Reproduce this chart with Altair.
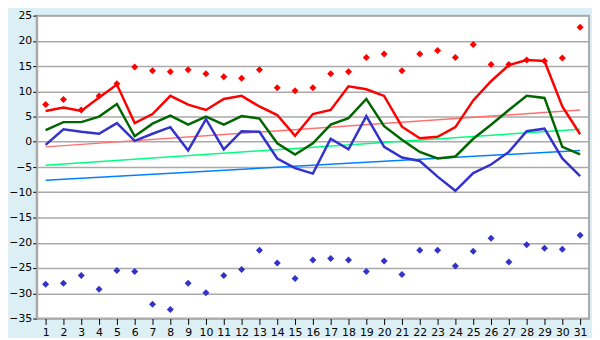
import altair as alt
import pandas as pd

days = list(range(1, 32))
t_max = [6.1, 6.8, 6.1, 8.8, 11.35, 3.7, 5.5, 9.1, 7.35, 6.3, 8.5, 9.1, 7.0, 5.3, 1.2, 5.5,
         6.3, 11.0, 10.4, 9.1, 3.0, 0.7, 1.0, 2.9, 8.2, 12.0, 15.2, 16.2, 16.0, 7.0, 1.5]
t_mean = [2.3, 3.9, 3.9, 5.0, 7.5, 1.1, 3.6, 5.2, 3.4, 5.0, 3.4, 5.1, 4.6, -0.3, -2.5, -0.3,
          3.4, 4.7, 8.5, 3.1, 0.4, -2.0, -3.3, -2.9, 0.6, 3.4, 6.3, 9.1, 8.7, -1.0, -2.5]
t_min = [-0.6, 2.5, 2.0, 1.6, 3.7, 0.2, 1.6, 2.9, -1.7, 4.5, -1.5, 2.1, 2.0, -3.3, -5.2, -6.3,
         0.6, -1.5, 5.1, -1.0, -3.1, -3.8, -6.9, -9.7, -6.2, -4.5, -2.0, 2.1, 2.6, -3.3, -6.8]
rec_max = [7.4, 8.4, 6.3, 9.1, 11.5, 14.8, 14.1, 13.9, 14.3, 13.5, 12.9, 12.6, 14.3, 10.7, 10.1, 10.7,
           13.5, 13.9, 16.7, 17.4, 14.1, 17.4, 18.1, 16.7, 19.3, 15.3, 15.3, 16.2, 16.0, 16.6, 22.7]
rec_min = [-28.2, -28.0, -26.5, -29.2, -25.5, -25.7, -32.2, -33.2, -28.0, -29.9, -26.5, -25.3, -21.5, -24.0, -27.1, -23.4,
           -23.1, -23.4, -25.7, -23.6, -26.3, -21.5, -21.5, -24.6, -21.7, -19.1, -23.8, -20.4, -21.1, -21.3, -18.5]
norm_days = [1, 31]
norm_max = [-1.0, 6.3]
norm_mean = [-4.65, 2.5]
norm_min = [-7.6, -1.7]
y_ticks = list(range(-35, 30, 5))

lines_df = pd.concat([
    pd.DataFrame({"day": days, "t": t_max, "s": "max"}),
    pd.DataFrame({"day": days, "t": t_mean, "s": "mean"}),
    pd.DataFrame({"day": days, "t": t_min, "s": "min"}),
])
norm_df = pd.concat([
    pd.DataFrame({"day": norm_days, "t": norm_max, "s": "nmax"}),
    pd.DataFrame({"day": norm_days, "t": norm_mean, "s": "nmean"}),
    pd.DataFrame({"day": norm_days, "t": norm_min, "s": "nmin"}),
])
rec_df = pd.concat([
    pd.DataFrame({"day": days, "t": rec_max, "s": "rmax"}),
    pd.DataFrame({"day": days, "t": rec_min, "s": "rmin"}),
])

color = alt.Scale(
    domain=["max", "mean", "min", "nmax", "nmean", "nmin", "rmax", "rmin"],
    range=["#ff0000", "#006600", "#3333cc", "#ff7070", "#00ff80", "#0080ff", "#ff0000", "#3333cc"],
)

x = alt.X("day:Q", scale=alt.Scale(domain=[0.5, 31.5], nice=False, zero=False),
          axis=alt.Axis(values=days, title=None, grid=False, tickSize=6, labelPadding=2,
                        domain=False, tickColor="#000000", labelFlush=False))
y = alt.Y("t:Q", scale=alt.Scale(domain=[-35, 25], nice=False),
          axis=alt.Axis(values=y_ticks, title=None, grid=True, gridColor="#aaaaaa", gridWidth=1.5,
                        tickSize=4, tickColor="#000000", domain=True, domainColor="#aaaaaa",
                        domainWidth=2, labelPadding=1, labelFlush=False))

norm = alt.Chart(norm_df).mark_line(strokeWidth=1.5).encode(
    x=x, y=y, color=alt.Color("s:N", scale=color, legend=None), detail="s:N")
lines = alt.Chart(lines_df).mark_line(strokeWidth=2.5).encode(
    x=x, y=y, color=alt.Color("s:N", scale=color, legend=None), detail="s:N")
pts = alt.Chart(rec_df).mark_point(shape="diamond", filled=True, size=50, opacity=1).encode(
    x=x, y=y, color=alt.Color("s:N", scale=color, legend=None))

chart = alt.layer(norm, lines, pts).properties(
    width=558, height=306,
    autosize=alt.AutoSizeParams(type="none"),
    padding={"left": 29, "top": 6, "right": 3, "bottom": 18},
    background="#dbeff5",
).configure_view(
    fill="#ffffff", stroke="#aaaaaa", strokeWidth=2
).configure_axis(
    labelFont="DejaVu Sans", labelFontSize=11, labelColor="#000000"
)

chart.save("out.html", embed_options={"renderer": "svg", "actions": False})
